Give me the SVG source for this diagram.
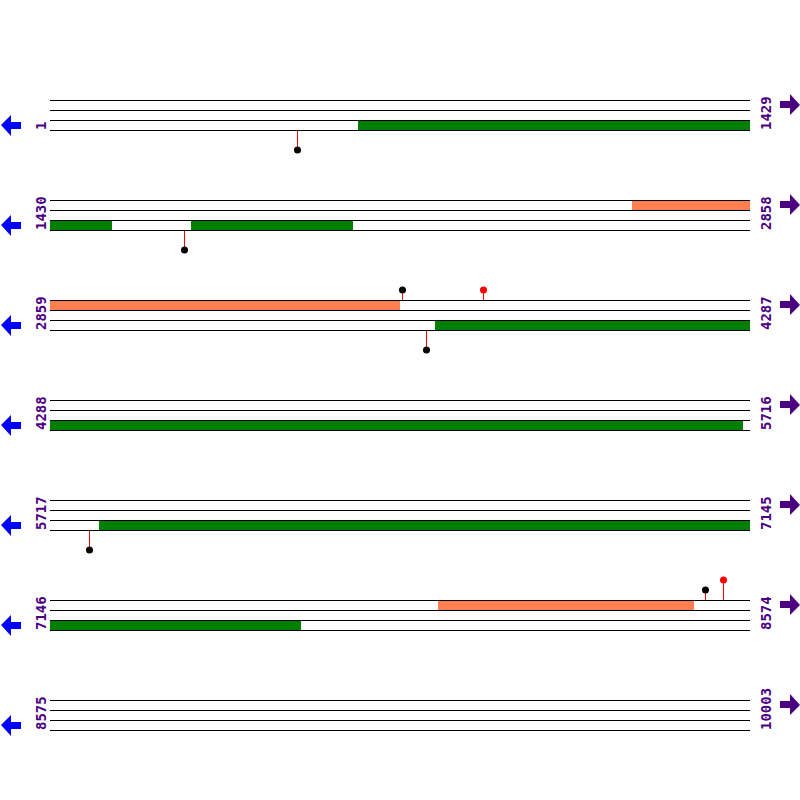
<svg xmlns="http://www.w3.org/2000/svg" width="800" height="800" viewBox="0 0 800 800">
<style>
.ln{stroke:#000;stroke-width:1;fill:none}
.g{fill:#008000}
.o{fill:#FF7F50}
.st{stroke:#ff0000;stroke-width:1}
.lbl{font-family:"DejaVu Sans Mono","Liberation Mono",monospace;font-size:14px;font-weight:bold;fill:#4B0082}
.la{fill:#0000ff}
.ra{fill:#4B0082}
</style>
<defs>
<path id="larr" d="M1,0 L11,-10 L11,-3 L21,-3 L21,4 L11,4 L11,11 Z"/>
<path id="rarr" d="M800,0 L790,-11 L790,-4 L780,-4 L780,3 L790,3 L790,10 Z"/>
<g id="lines">
<line class="ln" x1="50" y1="100.5" x2="750" y2="100.5"/>
<line class="ln" x1="50" y1="110.5" x2="750" y2="110.5"/>
<line class="ln" x1="50" y1="120.5" x2="750" y2="120.5"/>
<line class="ln" x1="50" y1="130.5" x2="750" y2="130.5"/>
</g>
</defs>
<rect width="800" height="800" fill="#fff"/>
<g id="row1">
<rect class="g" x="358" y="120" width="392" height="10"/>
<use href="#lines"/>
<line class="st" x1="297.5" y1="131" x2="297.5" y2="150"/>
<circle cx="297.5" cy="150" r="3.5" fill="#000"/>
<text class="lbl" transform="translate(46,130) rotate(-90)">1</text>
<text class="lbl" transform="translate(771,130) rotate(-90)">1429</text>
<use href="#larr" class="la" y="125"/>
<use href="#rarr" class="ra" y="105"/>
</g>
<g id="row2">
<rect class="o" x="632" y="200" width="118" height="10"/>
<rect class="g" x="50" y="220" width="62" height="10"/>
<rect class="g" x="191" y="220" width="162" height="10"/>
<use href="#lines" y="100"/>
<line class="st" x1="184.5" y1="231" x2="184.5" y2="250"/>
<circle cx="184.5" cy="250" r="3.5" fill="#000"/>
<text class="lbl" transform="translate(46,230) rotate(-90)">1430</text>
<text class="lbl" transform="translate(771,230) rotate(-90)">2858</text>
<use href="#larr" class="la" y="225"/>
<use href="#rarr" class="ra" y="205"/>
</g>
<g id="row3">
<rect class="o" x="50" y="300" width="350" height="10"/>
<rect class="g" x="435" y="320" width="315" height="10"/>
<use href="#lines" y="200"/>
<line class="st" x1="402.5" y1="290" x2="402.5" y2="300"/>
<circle cx="402.5" cy="290" r="3.5" fill="#000"/>
<line class="st" x1="483.5" y1="290" x2="483.5" y2="300"/>
<circle cx="483.5" cy="290" r="3.5" fill="#ff0000"/>
<line class="st" x1="426.5" y1="331" x2="426.5" y2="350"/>
<circle cx="426.5" cy="350" r="3.5" fill="#000"/>
<text class="lbl" transform="translate(46,330) rotate(-90)">2859</text>
<text class="lbl" transform="translate(771,330) rotate(-90)">4287</text>
<use href="#larr" class="la" y="325"/>
<use href="#rarr" class="ra" y="305"/>
</g>
<g id="row4">
<rect class="g" x="50" y="420" width="693" height="10"/>
<use href="#lines" y="300"/>
<text class="lbl" transform="translate(46,430) rotate(-90)">4288</text>
<text class="lbl" transform="translate(771,430) rotate(-90)">5716</text>
<use href="#larr" class="la" y="425"/>
<use href="#rarr" class="ra" y="405"/>
</g>
<g id="row5">
<rect class="g" x="99" y="520" width="651" height="10"/>
<use href="#lines" y="400"/>
<line class="st" x1="89.5" y1="531" x2="89.5" y2="550"/>
<circle cx="89.5" cy="550" r="3.5" fill="#000"/>
<text class="lbl" transform="translate(46,530) rotate(-90)">5717</text>
<text class="lbl" transform="translate(771,530) rotate(-90)">7145</text>
<use href="#larr" class="la" y="525"/>
<use href="#rarr" class="ra" y="505"/>
</g>
<g id="row6">
<rect class="o" x="438" y="600" width="256" height="10"/>
<rect class="g" x="50" y="620" width="251" height="10"/>
<use href="#lines" y="500"/>
<line class="st" x1="705.5" y1="590" x2="705.5" y2="600"/>
<circle cx="705.5" cy="590" r="3.5" fill="#000"/>
<line class="st" x1="723.5" y1="580" x2="723.5" y2="600"/>
<circle cx="723.5" cy="580" r="3.5" fill="#ff0000"/>
<text class="lbl" transform="translate(46,630) rotate(-90)">7146</text>
<text class="lbl" transform="translate(771,630) rotate(-90)">8574</text>
<use href="#larr" class="la" y="625"/>
<use href="#rarr" class="ra" y="605"/>
</g>
<g id="row7">
<use href="#lines" y="600"/>
<text class="lbl" transform="translate(46,730) rotate(-90)">8575</text>
<text class="lbl" transform="translate(771,730) rotate(-90)">10003</text>
<use href="#larr" class="la" y="725"/>
<use href="#rarr" class="ra" y="705"/>
</g>
<g id="connectors"></g>
</svg>
